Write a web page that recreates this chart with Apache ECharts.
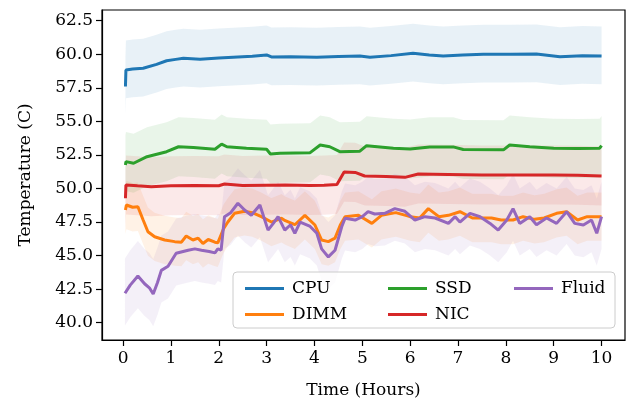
<!DOCTYPE html>
<html>
<head>
<meta charset="utf-8">
<script src="https://cdn.jsdelivr.net/npm/echarts@6/dist/echarts.min.js"></script>
<style>
  html, body { margin: 0; padding: 0; background: #fff; }
  #main { width: 626px; height: 405px; }
</style>
</head>
<body>
<div id="main"></div>
<script>
// temperatures, time in hours
var cpuTime = [0.05, 0.06, 0.2, 0.42, 0.7, 0.91, 1.1, 1.26, 1.61, 2.0, 2.3, 2.7, 3.0, 3.1, 3.5, 4.05, 4.5, 4.95, 5.16, 5.6, 6.06, 6.4, 6.69, 7.1, 7.53, 8.1, 8.64, 9.13, 9.6, 10.0];
var cpuTemp = [57.6, 58.83, 58.9, 58.96, 59.25, 59.52, 59.62, 59.7, 59.63, 59.72, 59.78, 59.85, 59.95, 59.8, 59.82, 59.78, 59.83, 59.87, 59.78, 59.9, 60.07, 59.95, 59.87, 59.95, 60.0, 60.0, 60.02, 59.82, 59.9, 59.87];

var ssdTime = [0.05, 0.06, 0.22, 0.5, 0.91, 1.16, 1.47, 1.92, 2.06, 2.17, 2.58, 3.0, 3.08, 3.28, 3.91, 4.12, 4.32, 4.53, 4.95, 5.09, 5.65, 6.0, 6.41, 6.9, 7.11, 7.95, 8.08, 8.5, 9.0, 9.5, 9.96, 10.0];
var ssdTemp = [51.75, 52.0, 51.88, 52.37, 52.74, 53.11, 53.05, 52.92, 53.31, 53.11, 53.0, 52.92, 52.57, 52.62, 52.67, 53.24, 53.11, 52.74, 52.78, 53.19, 53.0, 52.94, 53.1, 53.1, 52.9, 52.88, 53.24, 53.11, 53.0, 52.98, 53.0, 53.2];

var nicTime = [0.05, 0.06, 0.3, 0.59, 1.0, 1.5, 2.0, 2.12, 2.5, 3.0, 3.39, 3.9, 4.2, 4.47, 4.62, 4.85, 5.05, 5.5, 5.89, 6.17, 6.8, 7.5, 8.2, 9.0, 9.5, 10.0];
var nicTemp = [49.27, 50.26, 50.2, 50.13, 50.2, 50.22, 50.2, 50.33, 50.22, 50.25, 50.26, 50.22, 50.25, 50.3, 51.22, 51.2, 50.93, 50.9, 50.83, 51.08, 51.05, 51.0, 51.0, 51.0, 50.98, 50.93];

var dimmTime = [0.05, 0.07, 0.2, 0.31, 0.42, 0.52, 0.66, 0.87, 1.08, 1.22, 1.32, 1.46, 1.57, 1.67, 1.78, 1.92, 1.98, 2.1, 2.19, 2.33, 2.54, 2.7, 2.89, 3.1, 3.31, 3.39, 3.59, 3.8, 4.01, 4.15, 4.29, 4.43, 4.54, 4.64, 4.92, 5.2, 5.4, 5.7, 6.0, 6.2, 6.38, 6.6, 6.8, 7.04, 7.3, 7.7, 7.9, 8.15, 8.36, 8.6, 8.8, 9.06, 9.27, 9.5, 9.7, 9.9, 10.0];
var dimmTemp = [48.4, 48.77, 48.6, 48.64, 47.65, 46.78, 46.4, 46.16, 46.04, 46.0, 46.46, 46.16, 46.3, 45.9, 46.2, 46.0, 45.95, 47.0, 47.5, 48.15, 48.3, 48.2, 47.9, 47.5, 47.78, 47.6, 47.3, 48.0, 47.28, 46.16, 46.04, 46.3, 47.28, 47.9, 48.0, 47.4, 48.0, 48.2, 47.9, 47.8, 48.5, 47.9, 48.0, 48.27, 47.8, 47.8, 47.65, 47.65, 47.9, 47.7, 47.8, 48.15, 48.27, 47.65, 47.9, 47.9, 47.9];

var fluidTime = [0.04, 0.15, 0.31, 0.45, 0.55, 0.63, 0.72, 0.8, 0.94, 1.11, 1.36, 1.5, 1.64, 1.8, 1.92, 1.98, 2.05, 2.12, 2.25, 2.4, 2.54, 2.68, 2.86, 3.03, 3.14, 3.24, 3.38, 3.5, 3.59, 3.7, 3.9, 4.05, 4.15, 4.29, 4.43, 4.57, 4.64, 4.85, 5.0, 5.12, 5.26, 5.47, 5.68, 5.89, 6.1, 6.31, 6.52, 6.8, 6.94, 7.04, 7.25, 7.46, 7.67, 7.84, 8.02, 8.15, 8.29, 8.5, 8.64, 8.85, 9.06, 9.27, 9.44, 9.62, 9.79, 9.9, 10.0];
var fluidTemp = [42.19, 42.8, 43.48, 42.9, 42.6, 42.14, 43.0, 43.9, 44.2, 45.17, 45.4, 45.5, 45.4, 45.3, 45.2, 45.5, 45.4, 47.9, 48.2, 48.9, 48.4, 48.0, 48.77, 46.9, 47.4, 47.9, 46.9, 47.3, 46.66, 47.5, 47.2, 46.66, 45.5, 44.9, 45.4, 47.15, 47.78, 47.65, 47.9, 48.27, 48.1, 48.15, 48.5, 48.3, 47.65, 47.9, 47.8, 47.4, 47.9, 47.5, 48.15, 47.9, 47.4, 46.9, 47.65, 48.5, 47.4, 47.9, 47.3, 47.8, 47.4, 48.27, 47.4, 47.28, 47.65, 46.66, 47.9];

// spread of the shaded band (below, above) for each sensor
var cpuSpread = [2.1, 2.2];
var ssdSpread = [2.2, 2.2];
var nicSpread = [2.2, 2.2];
var dimmSpread = [1.8, 1.8];
var fluidSpread = [2.4, 2.6];

var xTicks = [0, 1, 2, 3, 4, 5, 6, 7, 8, 9, 10];
var yTicks = [40, 42.5, 45, 47.5, 50, 52.5, 55, 57.5, 60, 62.5];

var FONT = 'DejaVu Serif';
var FS = 17;

function pairs(t, v) {
    var out = [];
    for (var i = 0; i < t.length; i++) out.push([t[i], v[i]]);
    return out;
}

function band(t, v, spread, color) {
    return {
        type: 'custom',
        silent: true,
        z: 1,
        data: [[t[0], v[0]]],
        renderItem: function (params, api) {
            var pts = [];
            for (var i = 0; i < t.length; i++) pts.push(api.coord([t[i], v[i] + spread[1]]));
            for (var j = t.length - 1; j >= 0; j--) pts.push(api.coord([t[j], v[j] - spread[0]]));
            return {
                type: 'polygon',
                shape: { points: pts },
                style: { fill: color, opacity: 0.1 }
            };
        }
    };
}

function line(name, t, v, color) {
    return {
        name: name,
        type: 'line',
        z: 3,
        data: pairs(t, v),
        showSymbol: false,
        color: color,
        lineStyle: { width: 3, color: color },
        emphasis: { disabled: true }
    };
}

function legendGroup(names, left) {
    return {
        data: names,
        orient: 'vertical',
        left: left,
        top: 275,
        z: 100,
        itemWidth: 39,
        itemHeight: 3,
        itemGap: 9,
        icon: 'rect',
        textStyle: { fontFamily: FONT, fontSize: FS, color: '#000', padding: [0, 0, 0, 3] }
    };
}

function axisBits(ticks) {
    return {
        axisLine: { show: true, onZero: false, lineStyle: { color: '#000', width: 1.2 } },
        axisTick: { show: true, inside: false, length: 6, lineStyle: { color: '#000', width: 1.2 }, customValues: ticks }
    };
}

var C = { cpu: '#1f77b4', dimm: '#ff7f0e', ssd: '#2ca02c', nic: '#d62728', fluid: '#9467bd' };

var myChart = echarts.init(document.getElementById('main'));
var xBits = axisBits(xTicks);
var yBits = axisBits(yTicks);
var option = {
    animation: false,
    grid: {
        left: 102, right: 1, top: 10, bottom: 65,
        show: true, borderColor: '#000', borderWidth: 1.2, backgroundColor: 'transparent'
    },
    xAxis: {
        type: 'value',
        min: -0.44, max: 10.49,
        name: 'Time (Hours)',
        nameLocation: 'middle',
        nameGap: 42,
        nameTextStyle: { fontFamily: FONT, fontSize: FS, color: '#000' },
        axisLine: xBits.axisLine,
        axisTick: xBits.axisTick,
        splitLine: { show: false },
        axisLabel: { fontFamily: FONT, fontSize: FS, color: '#000', margin: 10, customValues: xTicks }
    },
    yAxis: {
        type: 'value',
        min: 38.71, max: 63.3,
        name: 'Temperature (C)',
        nameLocation: 'middle',
        nameGap: 68,
        nameTextStyle: { fontFamily: FONT, fontSize: FS, color: '#000' },
        axisLine: yBits.axisLine,
        axisTick: yBits.axisTick,
        splitLine: { show: false },
        axisLabel: {
            fontFamily: FONT, fontSize: FS, color: '#000', margin: 9, customValues: yTicks,
            formatter: function (v) { return v.toFixed(1); }
        }
    },
    legend: [
        legendGroup(['CPU', 'DIMM'], 240),
        legendGroup(['SSD', 'NIC'], 383),
        legendGroup(['Fluid'], 509)
    ],
    graphic: [{
        type: 'rect',
        z: 50,
        silent: true,
        shape: { x: 233, y: 272, width: 382, height: 56, r: 4 },
        style: { fill: 'rgba(255,255,255,0.8)', stroke: '#cccccc', lineWidth: 1 }
    }],
    series: [
        band(cpuTime, cpuTemp, cpuSpread, C.cpu),
        band(dimmTime, dimmTemp, dimmSpread, C.dimm),
        band(ssdTime, ssdTemp, ssdSpread, C.ssd),
        band(nicTime, nicTemp, nicSpread, C.nic),
        band(fluidTime, fluidTemp, fluidSpread, C.fluid),
        line('CPU', cpuTime, cpuTemp, C.cpu),
        line('DIMM', dimmTime, dimmTemp, C.dimm),
        line('SSD', ssdTime, ssdTemp, C.ssd),
        line('NIC', nicTime, nicTemp, C.nic),
        line('Fluid', fluidTime, fluidTemp, C.fluid)
    ]
};
myChart.setOption(option);
</script>
</body>
</html>
